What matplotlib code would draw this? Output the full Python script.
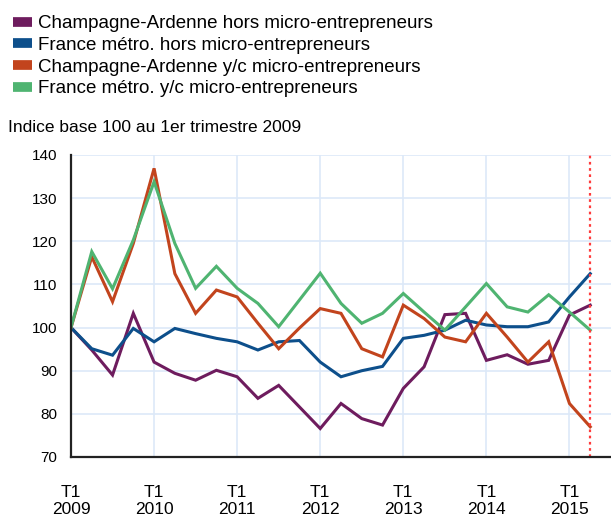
import matplotlib
matplotlib.use("Agg")
import matplotlib.pyplot as plt
from matplotlib.lines import Line2D

plt.rcParams['font.family'] = ['Liberation Sans', 'DejaVu Sans']

quarters = list(range(26))  # T1 2009 .. T2 2015
year_ticks = [0, 4, 8, 12, 16, 20, 24]
year_labels = ["T1\n2009", "T1\n2010", "T1\n2011", "T1\n2012", "T1\n2013", "T1\n2014", "T1\n2015"]

ca_hors = [100, 94.8, 89.0, 103.3, 92.0, 89.4, 87.8, 90.1, 88.6, 83.6, 86.6, 81.6, 76.6,
           82.4, 78.9, 77.4, 85.9, 90.9, 103.0, 103.3, 92.4, 93.7, 91.5, 92.4, 102.9, 105.2]
fr_hors = [100, 95.1, 93.6, 99.8, 96.7, 99.8, 98.6, 97.5, 96.7, 94.8, 96.7, 97.0, 92.0,
           88.6, 90.0, 91.0, 97.5, 98.2, 99.4, 101.7, 100.6, 100.2, 100.2, 101.3, 107.1, 112.5]
ca_yc = [100, 116.4, 106.0, 119.5, 136.9, 112.5, 103.3, 108.7, 107.1, 101.0, 95.1, 99.9, 104.4,
         103.3, 95.1, 93.2, 105.2, 102.1, 97.8, 96.7, 103.3, 97.8, 92.0, 96.7, 82.4, 77.0]
fr_yc = [100, 117.6, 109.0, 120.3, 133.8, 119.5, 109.1, 114.2, 109.1, 105.6, 100.2, 106.4, 112.6,
         105.6, 101.0, 103.3, 107.9, 103.6, 99.4, 104.8, 110.2, 104.8, 103.6, 107.6, 103.6, 99.4]

series = [
    ("Champagne-Ardenne hors micro-entrepreneurs", ca_hors, "#6e1c5e"),
    ("France métro. hors micro-entrepreneurs", fr_hors, "#0d4f8b"),
    ("Champagne-Ardenne y/c micro-entrepreneurs", ca_yc, "#c2441d"),
    ("France métro. y/c micro-entrepreneurs", fr_yc, "#4fb471"),
]

fig = plt.figure(figsize=(6.11, 5.17), dpi=100)
ax = fig.add_axes([71/611, 60/517, 540/611, 302/517])

for label, vals, col in series:
    ax.plot(quarters, vals, color=col, lw=2.2, solid_joinstyle='miter')

ax.axvline(25, color="#ff3b3b", lw=1.6, ls=(0, (1.2, 1.6)))

ax.set_xlim(0, 26)
ax.set_ylim(70, 140)
ax.set_yticks(range(70, 141, 10))
ax.set_xticks(year_ticks)
ax.set_xticklabels(year_labels, fontsize=12.5, linespacing=1.15)
ax.tick_params(axis='y', labelsize=11, length=0, pad=10)
ax.tick_params(axis='x', length=0, pad=20)
ax.grid(True, color="#dde9f8", lw=1.2)
ax.set_axisbelow(True)
for s in ['top', 'right']:
    ax.spines[s].set_visible(False)
for s in ['left', 'bottom']:
    ax.spines[s].set_color("#222222")
    ax.spines[s].set_linewidth(1.6)

handles = [Line2D([0], [0], color=c, lw=7, solid_capstyle='butt') for _, _, c in series]
fig.legend(handles, [s[0] for s in series], loc='upper left',
           bbox_to_anchor=(0.0, 1.0 - 2/517), frameon=False, fontsize=13.5,
           handlelength=1.0, handletextpad=0.35, labelspacing=0.24,
           borderaxespad=0.3)

fig.text(8/611, 1 - 128/517, "Indice base 100 au 1er trimestre 2009", fontsize=12.5,
         va='center', ha='left')

fig.savefig("out.png", dpi=100)
